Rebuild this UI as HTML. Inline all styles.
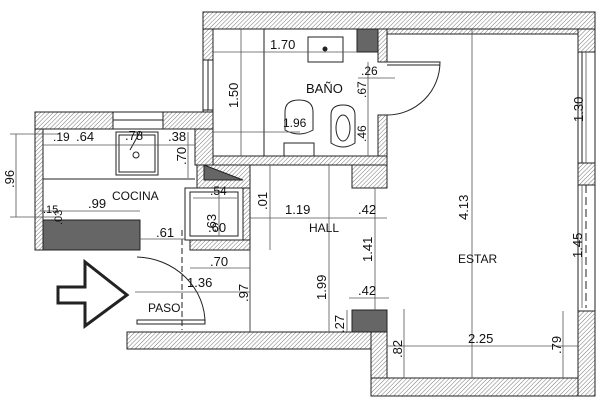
<!DOCTYPE html>
<html><head><meta charset="utf-8"><style>
html,body{margin:0;padding:0;background:#fff;}
svg{display:block;}
text{font-family:"Liberation Sans",sans-serif;fill:#111;}
</style></head><body>
<svg width="602" height="404" viewBox="0 0 602 404" xmlns="http://www.w3.org/2000/svg">
<defs>
<pattern id="h" width="3" height="3" patternUnits="userSpaceOnUse" patternTransform="rotate(45)">
<rect width="3" height="3" fill="#fff"/><line x1="0" y1="0" x2="0" y2="3" stroke="#777" stroke-width="1"/>
</pattern>
</defs>
<g fill="url(#h)" stroke="#222" stroke-width="1">
<!-- bath/estar top wall -->
<rect x="203" y="12" width="392" height="17"/>
<rect x="387" y="29" width="191" height="5"/>
<!-- right wall -->
<rect x="578" y="29" width="17" height="23"/>
<rect x="578" y="163" width="17" height="22"/>
<rect x="578" y="311" width="17" height="85"/>
<!-- bottom estar -->
<rect x="371" y="378" width="207" height="18"/>
<rect x="371" y="332" width="16" height="46"/>
<!-- hall bottom -->
<rect x="127" y="332" width="244" height="17"/>
<!-- bath left wall -->
<rect x="203" y="29" width="10" height="31"/>
<rect x="203" y="110" width="10" height="55"/>
<!-- bath bottom -->
<rect x="213" y="156" width="174" height="9"/>
<!-- bath right -->
<rect x="378" y="29" width="9" height="33"/>
<rect x="378" y="115" width="9" height="41"/>
<rect x="352" y="165" width="35" height="23"/>
<!-- kitchen -->
<rect x="35" y="112" width="78" height="17"/>
<rect x="163" y="112" width="50" height="17"/>
<rect x="35" y="129" width="8" height="121"/>
<rect x="195" y="129" width="18" height="36"/>
<rect x="197" y="165" width="53" height="23"/>
<rect x="243" y="188" width="7" height="62"/>
<rect x="190" y="240" width="60" height="10"/>
</g>
<g fill="none" stroke="#222" stroke-width="1">
<!-- windows -->
<rect x="113" y="112" width="50" height="17"/><line x1="113" y1="120" x2="163" y2="120"/>
<rect x="203" y="60" width="10" height="50"/><line x1="208" y1="60" x2="208" y2="110"/>
<line x1="578" y1="52" x2="578" y2="311"/><line x1="595" y1="52" x2="595" y2="163"/>
<line x1="586" y1="185" x2="586" y2="308" stroke-dasharray="8,4"/><line x1="595" y1="185" x2="595" y2="311"/>
<line x1="582" y1="52" x2="582" y2="163"/>
<!-- hall -->
<line x1="250" y1="165" x2="250" y2="332"/>
<!-- kitchen counter -->
<line x1="43" y1="179" x2="195" y2="179"/>
<rect x="116" y="132" width="42" height="43"/><rect x="119" y="135" width="36" height="37"/>
<circle cx="136" cy="155" r="3"/><line x1="140" y1="132" x2="130" y2="150"/>
<!-- fridge -->
<rect x="185" y="188" width="58" height="52"/><rect x="190" y="192" width="48" height="44"/>
<!-- door paso -->
<path d="M137 257 A 70 66 0 0 1 205 324"/>
<rect x="137" y="320" width="68" height="4"/>
<line x1="182" y1="230" x2="182" y2="330" stroke-dasharray="6,3"/>
<!-- bath door -->
<path d="M387 62 L440 62 A 53 53 0 0 1 387 115"/>
<line x1="387" y1="65" x2="440" y2="65"/>
<!-- bath fixtures -->
<rect x="308" y="37" width="35" height="25"/><circle cx="325" cy="49" r="2" fill="#222"/>
<line x1="264" y1="29" x2="264" y2="156"/>
<path d="M285 112 q0 -12 14 -12 q14 0 14 12 v18 q-14 8 -28 0z"/>
<rect x="284" y="143" width="30" height="13"/>
<path d="M331 115 q0 -10 12 -10 q12 0 12 10 v28 q-12 8 -24 0z"/>
<ellipse cx="343" cy="128" rx="7" ry="13"/>
<!-- arrow -->
<path d="M58 287 L85 287 L85 262 L127 295 L85 326 L85 303 L58 303 Z" stroke-width="3"/>
</g>
<g fill="#666" stroke="#222">
<rect x="43" y="220" width="97" height="30"/>
<rect x="357" y="29" width="21" height="23"/>
<rect x="352" y="310" width="35" height="22"/>
<path d="M204 165 L243 180 L204 180 Z" transform="translate(0,0)"/>
</g>
<!-- dimension lines -->
<g stroke="#555" stroke-width="0.8" fill="none">
<line x1="213" y1="52" x2="357" y2="52"/>
<line x1="241" y1="29" x2="241" y2="156"/>
<line x1="213" y1="132" x2="300" y2="132"/>
<line x1="368" y1="62" x2="368" y2="156"/>
<line x1="358" y1="78" x2="395" y2="78"/>
<line x1="472" y1="29" x2="472" y2="378"/>
<line x1="586" y1="52" x2="586" y2="163"/>
<line x1="582" y1="185" x2="582" y2="308"/>
<line x1="16" y1="134" x2="16" y2="217"/>
<line x1="10" y1="134" x2="60" y2="134"/><line x1="10" y1="217" x2="60" y2="217"/>
<line x1="43" y1="145" x2="195" y2="145"/>
<line x1="40" y1="211" x2="140" y2="211"/>
<line x1="188" y1="132" x2="188" y2="178"/>
<line x1="140" y1="239" x2="185" y2="239"/>
<line x1="193" y1="198" x2="237" y2="198"/>
<line x1="219" y1="190" x2="219" y2="236"/>
<line x1="190" y1="268" x2="250" y2="268"/>
<line x1="135" y1="292" x2="250" y2="292"/>
<line x1="250" y1="218" x2="352" y2="218"/>
<line x1="270" y1="165" x2="270" y2="250"/>
<line x1="329" y1="165" x2="329" y2="332"/>
<line x1="352" y1="218" x2="387" y2="218"/>
<line x1="375" y1="188" x2="375" y2="310"/>
<line x1="349" y1="298" x2="389" y2="298"/>
<line x1="347" y1="310" x2="347" y2="332"/>
<line x1="387" y1="346" x2="578" y2="346"/>
<line x1="404" y1="309" x2="404" y2="378"/>
<line x1="563" y1="311" x2="563" y2="378"/>
<line x1="250" y1="250" x2="250" y2="332"/>
</g>
<g font-size="13">
<text x="270" y="49">1.70</text>
<text x="306" y="93">BAÑO</text>
<text x="361" y="75" font-size="12">.26</text>
<text x="283" y="127" font-size="12">1.96</text>
<text x="112" y="200" font-size="12">COCINA</text>
<text x="88" y="208">.99</text>
<text x="43" y="213" font-size="11">.15</text>
<text x="156" y="237">.61</text>
<text x="208" y="232">.60</text>
<text x="210" y="195" font-size="12">.54</text>
<text x="210" y="266">.70</text>
<text x="187" y="287">1.36</text>
<text x="148" y="312" font-size="12">PASO</text>
<text x="285" y="214">1.19</text>
<text x="309" y="232" font-size="12">HALL</text>
<text x="358" y="214">.42</text>
<text x="358" y="295">.42</text>
<text x="458" y="263" font-size="12">ESTAR</text>
<text x="468" y="343">2.25</text>
<text x="53" y="141" font-size="12">.19</text>
<text x="76" y="141">.64</text>
<text x="168" y="141">.38</text>
<text x="125" y="140">.78</text>
</g>
<g font-size="13">
<text transform="translate(238,108) rotate(-90)">1.50</text>
<text transform="translate(366,98) rotate(-90)" font-size="12">.67</text>
<text transform="translate(366,142) rotate(-90)" font-size="12">.46</text>
<text transform="translate(468,220) rotate(-90)">4.13</text>
<text transform="translate(583,122) rotate(-90)">1.30</text>
<text transform="translate(582,258) rotate(-90)">1.45</text>
<text transform="translate(14,188) rotate(-90)">.96</text>
<text transform="translate(186,165) rotate(-90)">.70</text>
<text transform="translate(216,232) rotate(-90)">.63</text>
<text transform="translate(267,210) rotate(-90)">.01</text>
<text transform="translate(326,300) rotate(-90)">1.99</text>
<text transform="translate(372,262) rotate(-90)">1.41</text>
<text transform="translate(248,302) rotate(-90)">.97</text>
<text transform="translate(344,333) rotate(-90)">.27</text>
<text transform="translate(402,358) rotate(-90)">.82</text>
<text transform="translate(561,354) rotate(-90)">.79</text>
<text transform="translate(62,225) rotate(-90)" font-size="11">.03</text>
</g>
</svg>
</body></html>
